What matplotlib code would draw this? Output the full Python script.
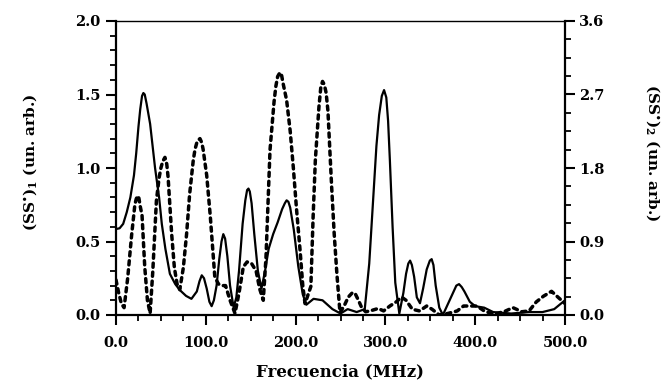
import matplotlib
matplotlib.use("Agg")
import matplotlib.pyplot as plt
from matplotlib.ticker import FixedLocator, MultipleLocator

# (SS*)_1 spectrum, left axis (arbitrary units)
freq_1 = [0, 4, 8, 12, 16, 20, 22.5, 25, 27, 29, 30.5, 32, 34, 38, 43.5, 48, 51, 55, 60, 66,
          71, 78, 84, 90, 93, 95.5, 98, 101, 104, 106.5, 109, 112, 115, 117.5, 119.5, 121.5,
          124, 127, 131, 134, 137, 141, 144, 146, 147.5, 149, 151, 154, 158, 162, 166, 170,
          175, 180, 185, 188, 190, 192, 194, 198, 203, 208, 212, 220, 230, 241, 250, 258,
          268, 277, 282, 286, 290, 293, 296, 298.5, 301, 303, 305, 308, 311, 315.5, 320, 323,
          325.5, 327.5, 329.5, 332, 335, 338.5, 342, 346, 349.5, 351.5, 353.5, 356, 360, 364,
          370, 376, 379, 382, 385, 388, 394, 400, 410, 420, 440, 460, 475, 488, 500]
ss_1 = [0.585, 0.59, 0.62, 0.70, 0.80, 0.95, 1.10, 1.28, 1.40, 1.49, 1.51, 1.50, 1.44, 1.30,
        1.00, 0.80, 0.62, 0.45, 0.28, 0.21, 0.17, 0.13, 0.11, 0.16, 0.23, 0.27, 0.25, 0.18,
        0.09, 0.06, 0.10, 0.20, 0.38, 0.50, 0.55, 0.52, 0.40, 0.20, 0.05, 0.12, 0.30, 0.62,
        0.78, 0.85, 0.86, 0.84, 0.76, 0.55, 0.30, 0.18, 0.30, 0.45, 0.55, 0.63, 0.72, 0.76,
        0.78, 0.77, 0.73, 0.58, 0.33, 0.14, 0.07, 0.11, 0.10, 0.04, 0.01, 0.04, 0.02, 0.04,
        0.35, 0.75, 1.15, 1.36, 1.49, 1.53, 1.48, 1.32, 1.05, 0.60, 0.22, 0.01, 0.15, 0.28,
        0.35, 0.37, 0.34, 0.26, 0.12, 0.08, 0.18, 0.31, 0.37, 0.38, 0.34, 0.20, 0.05, 0.0,
        0.08, 0.16, 0.20, 0.21, 0.19, 0.16, 0.09, 0.06, 0.05, 0.02, 0.01, 0.02, 0.02, 0.04,
        0.10]

# (SS*)_2 spectrum, right axis (arbitrary units)
freq_2 = [0, 3, 6, 9, 13, 17.5, 21, 22.5, 24, 25.5, 27, 29, 32, 35, 38, 41, 45, 48, 50, 52,
          54.5, 56.5, 58, 62, 65, 68, 71, 75, 78.6, 82, 86, 88, 90, 91.5, 93.5, 95.5, 97, 101,
          105, 110, 114, 118, 122, 127, 132.5, 137, 141.8, 146, 151, 156, 160, 164, 167,
          171.5, 176, 178, 180, 182.6, 184.5, 186, 190, 194, 197.5, 201, 205, 208, 210.5,
          213, 217, 219.5, 222, 226, 228, 230, 232, 234, 236, 240, 243, 246, 249.4, 254,
          258.7, 263, 266, 270, 273.6, 278, 283, 292, 298, 305, 312, 318, 323, 330, 338, 346,
          352, 360, 370, 380, 387, 395, 402, 410, 420, 432, 442, 452, 460, 468, 476, 485, 492,
          500]
ss_2 = [0.43, 0.27, 0.14, 0.09, 0.45, 0.99, 1.35, 1.42, 1.46, 1.43, 1.33, 1.22, 0.59, 0.18,
        0.02, 0.54, 1.40, 1.68, 1.80, 1.88, 1.93, 1.85, 1.69, 0.99, 0.58, 0.38, 0.31, 0.58,
        0.99, 1.48, 1.89, 2.03, 2.11, 2.14, 2.16, 2.11, 2.03, 1.71, 1.21, 0.47, 0.38, 0.36,
        0.36, 0.18, 0.02, 0.27, 0.59, 0.65, 0.63, 0.54, 0.32, 0.18, 0.70, 2.02, 2.61, 2.80,
        2.92, 2.97, 2.93, 2.84, 2.63, 2.25, 1.80, 1.30, 0.79, 0.36, 0.14, 0.22, 0.35, 1.20,
        1.90, 2.55, 2.78, 2.86, 2.82, 2.72, 2.50, 1.60, 0.99, 0.50, 0.03, 0.11, 0.22, 0.27,
        0.27, 0.18, 0.09, 0.04, 0.05, 0.08, 0.05, 0.11, 0.16, 0.22, 0.18, 0.07, 0.05, 0.11,
        0.07, 0.0, 0.02, 0.05, 0.11, 0.11, 0.11, 0.05, 0.01, 0.04, 0.09, 0.04, 0.05, 0.16,
        0.23, 0.29, 0.22, 0.14]

x_ticks = [0, 100, 200, 300, 400, 500]
x_tick_labels = ["0.0", "100.0", "200.0", "300.0", "400.0", "500.0"]
left_ticks = [0.0, 0.5, 1.0, 1.5, 2.0]
left_tick_labels = ["0.0", "0.5", "1.0", "1.5", "2.0"]
right_ticks = [0.0, 0.9, 1.8, 2.7, 3.6]
right_tick_labels = ["0.0", "0.9", "1.8", "2.7", "3.6"]

plt.rcParams["font.family"] = ["DejaVu Serif"]
plt.rcParams["font.weight"] = "bold"
plt.rcParams["mathtext.fontset"] = "dejavuserif"
plt.rcParams["mathtext.default"] = "bf"

W, H = 668, 381
fig = plt.figure(figsize=(W / 100, H / 100), dpi=100)
left, right, top, bottom = 116, 565, 21, 315
ax = fig.add_axes([left / W, 1 - bottom / H, (right - left) / W, (bottom - top) / H])
ax2 = ax.twinx()

ax.plot(freq_1, ss_1, color="black", lw=1.6, solid_joinstyle="round", zorder=3)
ax2.plot(freq_2, ss_2, color="black", lw=2.5, linestyle=(0, (1.2, 1.4)),
         dash_capstyle="round", zorder=3)

ax.set_xlim(0, 500)
ax.set_ylim(0, 2.0)
ax2.set_ylim(0, 3.6)

ax.xaxis.set_major_locator(FixedLocator(x_ticks))
ax.set_xticklabels(x_tick_labels)
ax.xaxis.set_minor_locator(MultipleLocator(25))
ax.yaxis.set_major_locator(FixedLocator(left_ticks))
ax.set_yticklabels(left_tick_labels)
ax.yaxis.set_minor_locator(MultipleLocator(0.1))
ax2.yaxis.set_major_locator(FixedLocator(right_ticks))
ax2.set_yticklabels(right_tick_labels)
ax2.yaxis.set_minor_locator(MultipleLocator(0.225))

for a in (ax, ax2):
    a.tick_params(which="major", direction="out", length=7, width=1.5, labelsize=10.5)
    a.tick_params(which="minor", direction="out", length=4, width=1.3)
ax.tick_params(axis="x", which="major", pad=8)
ax.tick_params(axis="y", which="major", pad=4)
ax2.tick_params(axis="y", which="major", pad=3)
ax.tick_params(top=False, right=False, which="both")

ax.spines["left"].set_linewidth(1.6)
ax.spines["bottom"].set_linewidth(1.6)
ax.spines["top"].set_linewidth(1.0)
ax.spines["right"].set_visible(False)
ax2.spines["right"].set_linewidth(1.6)
for s in ("left", "bottom", "top"):
    ax2.spines[s].set_visible(False)

fig.text(340 / W, 1 - 372 / H, "Frecuencia (MHz)", ha="center", va="center", fontsize=12)
fig.text(30 / W, 1 - 162 / H, r"(SS$^{\bullet}$)$_1$ (un. arb.)", ha="center", va="center",
         rotation=90, fontsize=11)
fig.text(653 / W, 1 - 153 / H, r"(SS$^{\bullet}$)$_2$ (un. arb.)", ha="center", va="center",
         rotation=-90, fontsize=11)

fig.savefig("out.png", dpi=100)
